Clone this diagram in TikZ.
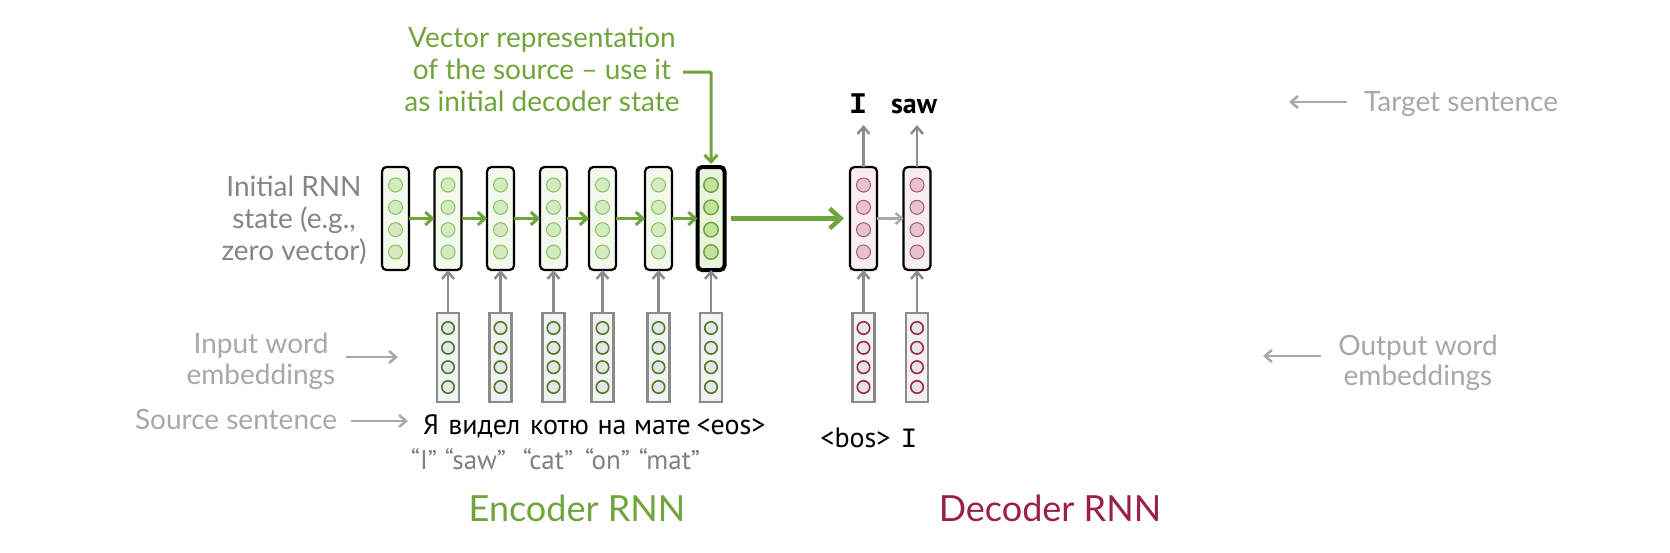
\documentclass[tikz,border=0pt]{standalone}
\usepackage{fontspec}
\setmainfont{Lato}
\newfontfamily\wordfont{PT Sans}
\newfontfamily\monofont{Liberation Mono}
\usetikzlibrary{arrows.meta}
\definecolor{grn}{HTML}{6FA53B}
\definecolor{encfill}{HTML}{F4F9EE}
\definecolor{lastfill}{HTML}{EAF5DE}
\definecolor{enccircfill}{HTML}{D4EBBF}
\definecolor{enccircedge}{HTML}{8CC064}
\definecolor{lastcircfill}{HTML}{C2E29F}
\definecolor{lastcircedge}{HTML}{6DA23C}
\definecolor{decfill}{HTML}{F8EEF1}
\definecolor{deccircfill}{HTML}{E8C3CC}
\definecolor{deccircedge}{HTML}{A3587A}
\definecolor{embfill}{HTML}{F3F3F3}
\definecolor{embedge}{HTML}{8A8A8A}
\definecolor{embcircfill}{HTML}{E5E5E5}
\definecolor{embcircE}{HTML}{4C7D2B}
\definecolor{embcircD}{HTML}{9C2B48}
\definecolor{arrgray}{HTML}{8C8C8C}
\definecolor{lblgray}{HTML}{A8A8A8}
\definecolor{lbldark}{HTML}{858585}
\definecolor{glossgray}{HTML}{808080}
\definecolor{decred}{HTML}{9A2141}
\begin{document}
\begin{tikzpicture}[x=1pt,y=-1pt,
  every node/.style={inner sep=0pt, outer sep=0pt},
  stbox/.style={draw=black, line width=2.2pt, rounded corners=4.5pt, minimum width=27pt, minimum height=103pt},
  encst/.style={stbox, fill=encfill},
  lastst/.style={stbox, line width=4pt, fill=lastfill},
  decst/.style={stbox, fill=decfill},
  embx/.style={draw=embedge, line width=2.5pt, fill=embfill, minimum width=22pt, minimum height=89pt},
  ecirc/.style={circle, draw=enccircedge, fill=enccircfill, line width=1pt, minimum size=14pt},
  lcirc/.style={circle, draw=lastcircedge, fill=lastcircfill, line width=1.4pt, minimum size=14.5pt},
  dcirc/.style={circle, draw=deccircedge, fill=deccircfill, line width=1pt, minimum size=14pt},
  eecirc/.style={circle, draw=embcircE, fill=embcircfill, line width=1.6pt, minimum size=12.5pt},
  decirc/.style={circle, draw=embcircD, fill=embcircfill, line width=1.6pt, minimum size=12.5pt},
  grnarrow/.style={draw=grn, line width=3pt, -{Straight Barb[length=7pt,width=13pt]}},
  bigarrow/.style={draw=grn, line width=4.5pt, -{Straight Barb[length=11pt,width=20pt]}},
  grayarrow/.style={draw=arrgray, line width=2.5pt, -{Straight Barb[length=7pt,width=12pt]}},
  lblarrow/.style={draw=lblgray, line width=2.5pt, -{Straight Barb[length=7pt,width=12pt]}},
  lbl/.style={font=\fontsize{28}{32}\selectfont, text=lblgray, anchor=base},
  vlbl/.style={font=\fontsize{28}{32}\selectfont, text=grn, anchor=base},
  rus/.style={font=\wordfont\fontsize{28}{32}\selectfont, text=black, anchor=base},
  gloss/.style={font=\wordfont\fontsize{27}{32}\selectfont, text=glossgray, anchor=base},
  big/.style={font=\fontsize{36}{40}\selectfont, anchor=base}
]
\fill[white] (0,0) rectangle (1670,552);
\useasboundingbox (0,0) rectangle (1670,552);

% encoder state boxes
\foreach \i/\x in {0/395.5,1/448,2/500.5,3/553.5,4/602.5,5/658.5}{
  \node[encst] (s\i) at (\x,218.5) {};
  \foreach \k/\y in {1/185,2/207.3,3/229.7,4/252}
    \node[ecirc] (s\i c\k) at (\x,\y) {};
}
\node[lastst] (s6) at (711,218.5) {};
\foreach \k/\y in {1/185,2/207.3,3/229.7,4/252}
  \node[lcirc] (s6c\k) at (711,\y) {};

% encoder embeddings
\foreach \i/\x in {1/448,2/500.5,3/553.5,4/602.5,5/658.5,6/711}{
  \node[embx] (e\i) at (\x,357.5) {};
  \foreach \k/\y in {1/328,2/347.8,3/367.2,4/387}
    \node[eecirc] (e\i c\k) at (\x,\y) {};
  \draw[grayarrow] (e\i.north) -- (s\i.south);
}

% encoder recurrent arrows
\foreach \i [evaluate=\i as \j using int(\i+1)] in {0,...,5}
  \draw[grnarrow] (s\i.east) -- (s\j.west);

% decoder
\foreach \i/\x in {1/863.5,2/917}{
  \node[decst] (d\i) at (\x,218.5) {};
  \foreach \k/\y in {1/185,2/207.3,3/229.7,4/252}
    \node[dcirc] (d\i c\k) at (\x,\y) {};
  \node[embx] (de\i) at (\x,357.5) {};
  \foreach \k/\y in {1/328,2/347.8,3/367.2,4/387}
    \node[decirc] (de\i c\k) at (\x,\y) {};
  \draw[grayarrow] (de\i.north) -- (d\i.south);
  \coordinate (t\i) at (\x,125);
  \draw[grayarrow] (d\i.north) -- (t\i);
}
\draw[draw=lblgray, line width=2.5pt, -{Straight Barb[length=6pt,width=11pt]}] (d1.east) -- (d2.west);
\draw[bigarrow, shorten <=6pt, shorten >=6pt] (s6.east) -- (d1.west);

% output words
\node[font=\monofont\bfseries\fontsize{30}{32}\selectfont, anchor=base] (oI) at (858,113) {I};
\node[font=\wordfont\bfseries\fontsize{28}{32}\selectfont, anchor=base] (osaw) at (914,113) {saw};

% decoder inputs
\node[rus] (bos) at (855.5,447) {<bos>};
\node[font=\monofont\fontsize{28}{30}\selectfont, anchor=base] (iI) at (909,447) {I};

% source sentence
\node[rus] (w1) at (431,434) {Я};
\node[rus] (w2) at (484.5,434) {видел};
\node[rus] (w3) at (559.5,434) {котю};
\node[rus] (w4) at (612,434) {на};
\node[rus] (w5) at (662.5,434) {мате};
\node[rus] (w6) at (731,434) {<eos>};

% glosses
\node[gloss] (g1) at (424,469) {“I”};
\node[gloss] (g2) at (475.5,469) {“saw”};
\node[gloss] (g3) at (548,469) {“cat”};
\node[gloss] (g4) at (607.5,469) {“on”};
\node[gloss] (g5) at (669.5,469) {“mat”};

% top annotation
\node[vlbl] (v1) at (542,47) {Vector representation};
\node[vlbl] (v2) at (542,79) {of the source – use it};
\node[vlbl] (v3) at (542,111) {as initial decoder state};
\coordinate (va) at (683,72);
\draw[grnarrow, rounded corners=1pt, shorten >=3pt] (va) -| (s6.north);

% left labels
\node[lbl, text=lbldark] (i1) at (294,196) {Initial RNN};
\node[lbl, text=lbldark] (i2) at (294,228) {state (e.g.,};
\node[lbl, text=lbldark] (i3) at (294,260) {zero vector)};
\node[lbl] (in1) at (261,353) {Input word};
\node[lbl] (in2) at (261,384) {embeddings};
\coordinate (ina) at (346,357);
\coordinate (inb) at (398,357);
\draw[lblarrow] (ina) -- (inb);
\node[lbl] (src) at (236,429) {Source sentence};
\coordinate (sra) at (351,421);
\coordinate (srb) at (408,421);
\draw[lblarrow] (sra) -- (srb);

% right labels
\node[lbl, anchor=base west] (tgt) at (1364,111) {Target sentence};
\coordinate (tga) at (1347,102);
\coordinate (tgb) at (1289,102);
\draw[lblarrow] (tga) -- (tgb);
\node[lbl] (ow1) at (1418,355) {Output word};
\node[lbl] (ow2) at (1418,385) {embeddings};
\coordinate (owa) at (1321,356);
\coordinate (owb) at (1263,356);
\draw[lblarrow] (owa) -- (owb);

% titles
\node[big, text=grn] (enc) at (577,521) {Encoder RNN};
\node[big, text=decred] (dec) at (1050,521) {Decoder RNN};
\end{tikzpicture}
\end{document}
